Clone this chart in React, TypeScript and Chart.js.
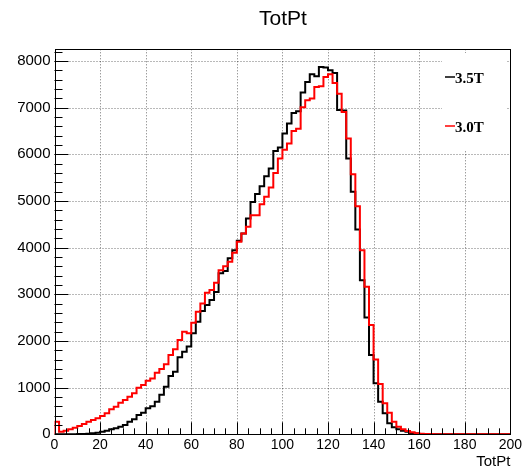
import React, { useEffect, useRef } from "react";
import { Chart, registerables } from "chart.js";

Chart.register(...registerables);

// ---- data ----
const BIN_LOW = 0;
const BIN_WIDTH = 2;
const X_TICKS = [0, 20, 40, 60, 80, 100, 120, 140, 160, 180, 200];
const Y_TICKS = [0, 1000, 2000, 3000, 4000, 5000, 6000, 7000, 8000];
const SERIES_LABELS = ["3.5T", "3.0T"];
const TITLE = "TotPt";
const X_TITLE = "TotPt";

// 3.5T (black), 100 bins of width 2 from 0 to 200
const totPt35T = [
  0, 0, 0, 0, 2, 4, 8, 14, 22, 35,
  56, 78, 107, 128, 164, 200, 270, 321, 413, 463,
  556, 600, 700, 845, 1020, 1250, 1340, 1650, 1770, 1880,
  2163, 2410, 2640, 2770, 2880, 3050, 3450, 3500, 3770, 3946,
  4146, 4305, 4625, 4980, 5150, 5314, 5531, 5696, 6073, 6145,
  6445, 6660, 6887, 6923, 7323, 7550, 7715, 7672, 7871, 7858,
  7800, 7743, 6950, 6940, 5910, 5195, 4390, 3300, 2505, 1698,
  1092, 699, 450, 235, 150, 107, 78, 57, 30, 15,
  8, 4, 2, 1, 0, 0, 0, 0, 0, 0,
  0, 0, 0, 0, 0, 0, 0, 0, 0, 0,
];

// 3.0T (red)
const totPt30T = [
  270, 56, 78, 107, 143, 178, 221, 270, 306, 342,
  392, 449, 535, 591, 677, 734, 805, 877, 998, 1056,
  1148, 1198, 1320, 1400, 1500, 1700, 1820, 2020, 2197, 2163,
  2390, 2625, 2805, 3033, 3090, 3246, 3518, 3600, 3700, 3890,
  4125, 4305, 4447, 4696, 4696, 4930, 5090, 5290, 5600, 5910,
  6100, 6230, 6500, 6550, 7010, 7160, 7195, 7443, 7458, 7658,
  7715, 7530, 7300, 6909, 6338, 5574, 4889, 3943, 3161, 2340,
  1605, 1077, 663, 463, 270, 163, 107, 71, 43, 20,
  10, 6, 4, 2, 1, 0, 0, 0, 0, 0,
  0, 0, 0, 0, 0, 0, 0, 0, 0, 0,
];

const X_MIN = 0;
const X_MAX = 200;
const Y_MIN = 0;
const Y_MAX = 8250;

function histPoints(values: number[]) {
  const pts: { x: number; y: number }[] = [{ x: BIN_LOW, y: 0 }];
  values.forEach((v, i) => pts.push({ x: BIN_LOW + i * BIN_WIDTH, y: v }));
  const last = values[values.length - 1];
  pts.push({ x: BIN_LOW + values.length * BIN_WIDTH, y: last });
  pts.push({ x: BIN_LOW + values.length * BIN_WIDTH, y: 0 });
  return pts;
}

const rootPlugin = {
  id: "rootStyle",
  beforeDatasetsDraw(chart: any) {
    const { ctx, chartArea: a, scales } = chart;
    const xs = scales.x;
    const ys = scales.y;
    ctx.save();
    ctx.strokeStyle = "rgba(0,0,0,0.55)";
    ctx.lineWidth = 1;
    ctx.setLineDash([1, 2]);
    X_TICKS.forEach((v) => {
      if (v <= X_MIN || v >= X_MAX) return;
      const px = Math.round(xs.getPixelForValue(v)) + 0.5;
      ctx.beginPath();
      ctx.moveTo(px, a.top);
      ctx.lineTo(px, a.bottom);
      ctx.stroke();
    });
    Y_TICKS.forEach((v) => {
      if (v <= Y_MIN || v >= Y_MAX) return;
      const py = Math.round(ys.getPixelForValue(v)) + 0.5;
      ctx.beginPath();
      ctx.moveTo(a.left, py);
      ctx.lineTo(a.right, py);
      ctx.stroke();
    });
    ctx.restore();
  },
  afterDatasetsDraw(chart: any) {
    const { ctx, chartArea: a, scales } = chart;
    const xs = scales.x;
    const ys = scales.y;
    ctx.save();
    // legend box (white, no border)
    ctx.fillStyle = "#fff";
    ctx.fillRect(442, 53, 64, 98);

    // frame
    ctx.strokeStyle = "#000";
    ctx.lineWidth = 1;
    ctx.setLineDash([]);
    ctx.strokeRect(Math.round(a.left) + 0.5, Math.round(a.top) + 0.5, Math.round(a.right - a.left) - 1, Math.round(a.bottom - a.top));

    // x ticks (inside)
    for (let v = X_MIN; v <= X_MAX; v += 5) {
      const major = v % 20 === 0;
      const px = Math.round(xs.getPixelForValue(v)) + 0.5;
      ctx.beginPath();
      ctx.moveTo(px, a.bottom);
      ctx.lineTo(px, a.bottom - (major ? 12 : 6));
      ctx.stroke();
    }
    // y ticks (inside)
    for (let v = Y_MIN; v <= Y_MAX; v += 200) {
      const major = v % 1000 === 0;
      const py = Math.round(ys.getPixelForValue(v)) + 0.5;
      ctx.beginPath();
      ctx.moveTo(a.left, py);
      ctx.lineTo(a.left + (major ? 14 : 8), py);
      ctx.stroke();
    }

    // legend entries
    const colors = ["#000000", "#ff0000"];
    const rowsY = [77, 126];
    ctx.font = 'bold 15px "Liberation Serif"';
    ctx.textAlign = "left";
    ctx.textBaseline = "alphabetic";
    SERIES_LABELS.forEach((lab, i) => {
      ctx.strokeStyle = colors[i];
      ctx.lineWidth = 1.5;
      ctx.beginPath();
      ctx.moveTo(445, rowsY[i]);
      ctx.lineTo(455, rowsY[i]);
      ctx.stroke();
      ctx.fillStyle = "#000";
      ctx.fillText(lab, 455, rowsY[i] + 6);
    });

    // title
    ctx.fillStyle = "#000";
    ctx.font = '21px "Liberation Sans"';
    ctx.textAlign = "center";
    ctx.fillText(TITLE, 283, 25);

    // x axis title
    ctx.font = '15px "Liberation Sans"';
    ctx.textAlign = "right";
    ctx.fillText(X_TITLE, a.right, 466);
    ctx.restore();
  },
};

export default function App() {
  const ref = useRef<HTMLCanvasElement>(null);
  useEffect(() => {
    document.body.style.margin = "0";
    const canvas = ref.current!;
    const chart = new Chart(canvas, {
      type: "line",
      data: {
        datasets: [
          {
            label: SERIES_LABELS[0],
            data: histPoints(totPt35T),
            borderColor: "#000000",
            borderWidth: 2,
            pointRadius: 0,
            stepped: "before",
            fill: false,
            order: 1,
          },
          {
            label: SERIES_LABELS[1],
            data: histPoints(totPt30T),
            borderColor: "#ff0000",
            borderWidth: 2,
            pointRadius: 0,
            stepped: "before",
            fill: false,
            order: 0,
          },
        ],
      },
      options: {
        animation: false,
        responsive: false,
        devicePixelRatio: 1,
        parsing: false as any,
        layout: { padding: { top: 49.3, right: 13, left: 0, bottom: 0 } },
        plugins: {
          legend: { display: false },
          tooltip: { enabled: false },
          title: { display: false },
        },
        scales: {
          x: {
            type: "linear",
            min: X_MIN,
            max: X_MAX,
            grid: { display: false, drawTicks: false },
            border: { display: false },
            ticks: {
              color: "#000",
              font: { family: '"Liberation Sans"', size: 14 },
              padding: 2,
              maxRotation: 0,
              autoSkip: false,
              callback: (v: any) => String(v),
            },
            afterBuildTicks: (s: any) => {
              s.ticks = X_TICKS.map((v) => ({ value: v }));
            },
            afterFit: (s: any) => {
              s.height = 469 - 434.3;
            },
          },
          y: {
            type: "linear",
            min: Y_MIN,
            max: Y_MAX,
            grid: { display: false, drawTicks: false },
            border: { display: false },
            ticks: {
              color: "#000",
              font: { family: '"Liberation Sans"', size: 15 },
              padding: 4,
              autoSkip: false,
              callback: (v: any) => String(v),
            },
            afterBuildTicks: (s: any) => {
              s.ticks = Y_TICKS.map((v) => ({ value: v }));
            },
            afterFit: (s: any) => {
              s.width = 54.5;
            },
          },
        },
      },
      plugins: [rootPlugin],
    });
    return () => chart.destroy();
  }, []);
  return (
    <div style={{ position: "absolute", left: 0, top: 0, width: 524, height: 469, background: "#fff" }}>
      <canvas ref={ref} width={524} height={469} style={{ display: "block" }} />
    </div>
  );
}
